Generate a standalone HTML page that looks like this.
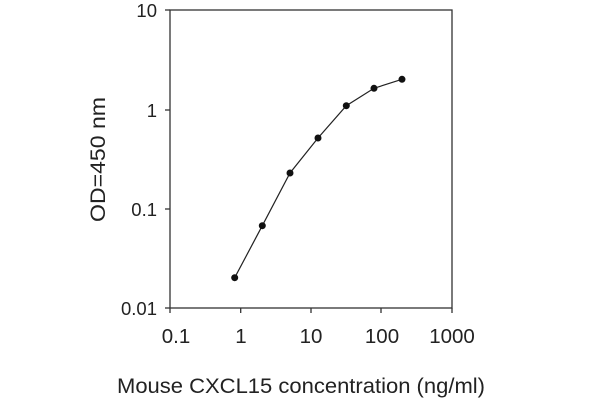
<!DOCTYPE html>
<html><head><style>body{margin:0;background:#fff}</style></head><body>
<svg width="600" height="400" xmlns="http://www.w3.org/2000/svg" font-family="Liberation Sans, sans-serif" fill="#222">
<rect x="170" y="10" width="282" height="298" fill="none" stroke="#333" stroke-width="1.3"/>
<g stroke="#333" stroke-width="1.3">
<line x1="165" y1="10" x2="170" y2="10"/><line x1="165" y1="110" x2="170" y2="110"/><line x1="165" y1="209" x2="170" y2="209"/><line x1="165" y1="308" x2="170" y2="308"/>
<line x1="170" y1="308" x2="170" y2="313"/><line x1="240.7" y1="308" x2="240.7" y2="313"/><line x1="311" y1="308" x2="311" y2="313"/><line x1="381" y1="308" x2="381" y2="313"/><line x1="452" y1="308" x2="452" y2="313"/>
</g>
<g font-size="18.5" text-anchor="end">
<text x="157" y="17">10</text><text x="157" y="117">1</text><text x="157" y="216">0.1</text><text x="157" y="315">0.01</text>
</g>
<g font-size="20.5" text-anchor="middle">
<text x="176" y="343">0.1</text><text x="241" y="343">1</text><text x="311" y="343">10</text><text x="382" y="343">100</text><text x="452" y="343">1000</text>
</g>
<text x="117" y="393" font-size="21.5" textLength="368" lengthAdjust="spacingAndGlyphs">Mouse CXCL15 concentration (ng/ml)</text>
<text transform="translate(105,222) rotate(-90)" font-size="21" textLength="125" lengthAdjust="spacingAndGlyphs">OD=450 nm</text>
<polyline fill="none" stroke="#222" stroke-width="1.2" points="234.7,277.7 262.3,225.7 290,173 318,138 346.3,105.7 374,88.3 402,79.3"/>
<g fill="#111">
<circle cx="234.7" cy="277.7" r="3.5"/><circle cx="262.3" cy="225.7" r="3.5"/><circle cx="290" cy="173" r="3.5"/><circle cx="318" cy="138" r="3.5"/><circle cx="346.3" cy="105.7" r="3.5"/><circle cx="374" cy="88.3" r="3.5"/><circle cx="402" cy="79.3" r="3.5"/>
</g>
</svg>
</body></html>
